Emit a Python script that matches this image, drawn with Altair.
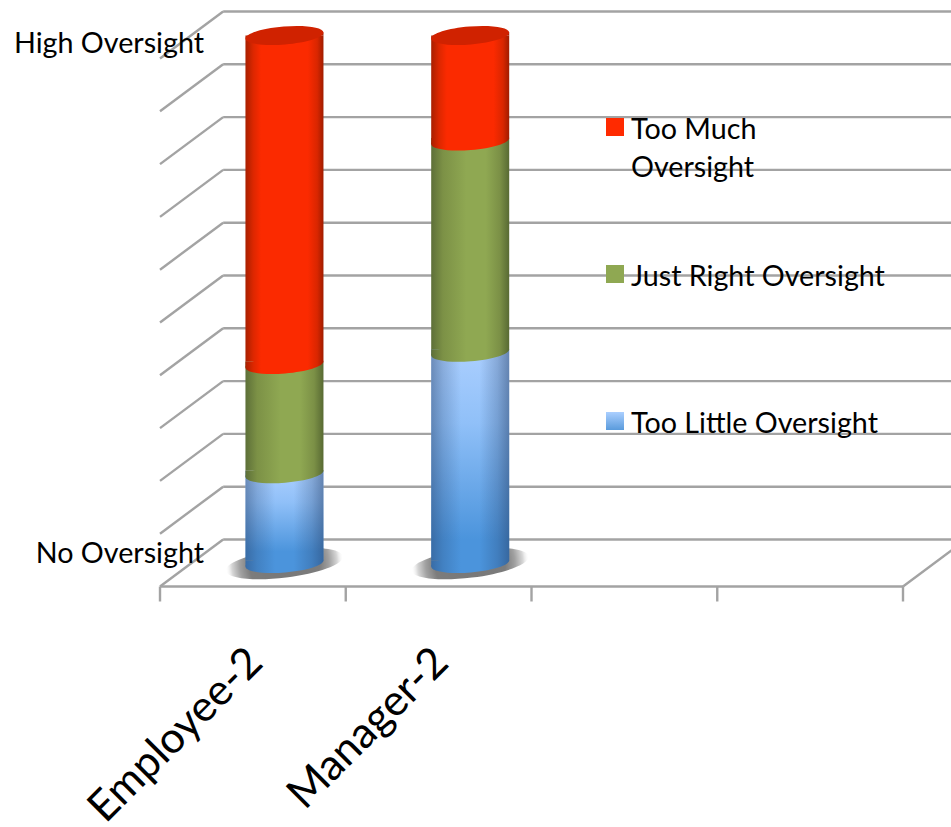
import math

import altair as alt
import pandas as pd

# Survey shares per group, stacked bottom to top (percent of the oversight scale)
categories = ["Employee-2", "Manager-2"]
too_little = [17, 40]
just_right = [20.7, 40]
too_much = [62.3, 20]
series_names = ["Too Little Oversight", "Just Right Oversight", "Too Much Oversight"]

# Pseudo-3D frame, expressed in scale units
LEVELS = list(range(0, 110, 10))
SLOTS = [0, 1, 2, 3, 4]
DEPTH_X = 0.34
DEPTH_Y = 8.9
CYL_BASE = 4.35
CYL_W = 0.42
TILT = 0.57
TICK = 2.84

W, H = 951, 827
x_scale = alt.Scale(domain=[-0.8614, 4.2584], nice=False, zero=False)
y_scale = alt.Scale(domain=[-45.55, 111.08], nice=False, zero=False)
X = lambda f: alt.X(f, type="quantitative", scale=x_scale, axis=None)
Y = lambda f: alt.Y(f, type="quantitative", scale=y_scale, axis=None)


def ellipse_path(a, b, degrees):
    """Rotated ellipse as four cubic segments, in the unit coordinates of a symbol."""
    th = math.radians(degrees)
    ux, uy, vx, vy = math.cos(th), math.sin(th), -math.sin(th), math.cos(th)
    pt = lambda p, q: f"{a * p * ux + b * q * vx:.4f},{a * p * uy + b * q * vy:.4f}"
    k = 0.5523
    return (f"M{pt(1, 0)}C{pt(1, k)} {pt(k, 1)} {pt(0, 1)}C{pt(-k, 1)} {pt(-1, k)} {pt(-1, 0)}"
            f"C{pt(-1, -k)} {pt(-k, -1)} {pt(0, -1)}C{pt(k, -1)} {pt(1, -k)} {pt(1, 0)}Z")


ELLIPSE = ellipse_path(1.003, 0.23, -4.64)
SHADOW_SHAPE = ellipse_path(1.0, 0.24, -7)
CAP_SIZE = 78 ** 2
SHADOW_SIZE = 118 ** 2


def hgrad(*stops):
    return {"gradient": "linear", "x1": 0, "x2": 1, "y1": 0, "y2": 0,
            "stops": [{"offset": o, "color": c} for o, c in stops]}


RED_STOPS = [(0, "#a81f00"), (0.1, "#dc2700"), (0.2, "#fb2a00"), (0.8, "#fb2a00"), (0.92, "#d92600"), (1, "#a01c00")]
GREEN_STOPS = [(0, "#5d6f38"), (0.15, "#7c9146"), (0.45, "#8fa852"), (0.7, "#8fa852"), (0.88, "#7b9046"), (1, "#586a33")]
BLUE_CAP_STOPS = [(0, "#396ca6"), (0.15, "#4281c2"), (0.38, "#4b94dc"), (0.62, "#4b94dc"), (0.85, "#417ebe"), (1, "#3768a0")]


def left_half(stops):
    """The left half of a body gradient, stretched over a half-width patch."""
    kept = [(o * 2, c) for o, c in stops if o <= 0.5]
    return hgrad(*kept, (1, kept[-1][1]))


def right_half(stops):
    """The right half of a body gradient, stretched over a half-width patch."""
    kept = [((o - 0.5) * 2, c) for o, c in stops if o >= 0.5]
    return hgrad((0, kept[0][1]), *kept)


RED = hgrad(*RED_STOPS)
GREEN = hgrad(*GREEN_STOPS)
BLUE_CAP = hgrad(*BLUE_CAP_STOPS)
BLUE_V = {"gradient": "linear", "x1": 0, "x2": 0, "y1": 0, "y2": 1,
          "stops": [{"offset": 0, "color": "#abcfff"}, {"offset": 0.35, "color": "#90c0f8"},
                    {"offset": 0.9, "color": "#4b94dc"}, {"offset": 1, "color": "#4b94dc"}]}
BLUE_SHADE = hgrad((0, "rgba(35,60,100,0.45)"), (0.15, "rgba(35,60,100,0.22)"), (0.38, "rgba(35,60,100,0)"),
                   (0.62, "rgba(35,60,100,0)"), (0.85, "rgba(35,60,100,0.25)"), (1, "rgba(35,60,100,0.5)"))
SHADOW = {"gradient": "radial", "x1": 0.5, "y1": 0.5, "r1": 0, "x2": 0.5, "y2": 0.5, "r2": 0.5,
          "stops": [{"offset": 0, "color": "#777777"}, {"offset": 0.6, "color": "#7c7c7c"},
                    {"offset": 0.76, "color": "#a0a0a0"}, {"offset": 0.9, "color": "#d6d6d6"},
                    {"offset": 1, "color": "rgba(245,245,245,0)"}]}
GRID = "#a3a3a3"

# Cylinder segments computed from the stacked shares
rows = []
for i, cat in enumerate(categories):
    lo = CYL_BASE
    for name, vals in zip(series_names, [too_little, just_right, too_much]):
        hi = lo + vals[i]
        cx = i + 0.5 + DEPTH_X / 2
        # Every segment but the top one runs on behind the end of the segment above it
        top = hi if name == series_names[-1] else hi + TILT
        rows.append({"cat": cat, "series": name, "cx": cx, "left": cx - CYL_W / 2, "right": cx + CYL_W / 2,
                     "lo": lo, "lo_rect": lo + TILT, "lo_low": lo - TILT, "hi": hi, "hi_rect": top,
                     "hi_up": hi + TILT})
        lo = hi
segments = pd.DataFrame(rows)
seg = lambda name: alt.Chart(segments[segments.series == name])

levels = pd.DataFrame({"lv": LEVELS})
levels["lv_back"] = levels.lv + DEPTH_Y
levels["x0"] = 0.0
levels["x_back"] = DEPTH_X
levels["x_end"] = 4 + DEPTH_X

back_lines = alt.Chart(levels).mark_rule(color=GRID, strokeWidth=2.4, clip=True).encode(
    x=X("x_back"), x2="x_end", y=Y("lv_back"))
side_lines = alt.Chart(levels).mark_rule(color=GRID, strokeWidth=2.4).encode(
    x=X("x0"), x2="x_back", y=Y("lv"), y2="lv_back")

floor = pd.DataFrame({"x0": [0.0], "x1": [4.0], "x_back": [4 + DEPTH_X], "y0": [0.0], "y_back": [DEPTH_Y]})
floor_front = alt.Chart(floor).mark_rule(color=GRID, strokeWidth=2.4).encode(x=X("x0"), x2="x1", y=Y("y0"))
floor_right = alt.Chart(floor).mark_rule(color=GRID, strokeWidth=2.4, clip=True).encode(
    x=X("x1"), x2="x_back", y=Y("y0"), y2="y_back")

ticks = pd.DataFrame({"s": SLOTS, "t0": [0.0] * 5, "t1": [-TICK] * 5})
tick_marks = alt.Chart(ticks).mark_rule(color=GRID, strokeWidth=2.4).encode(x=X("s"), y=Y("t0"), y2="t1")


def cap(name, fill, field="lo"):
    return seg(name).mark_point(shape=ELLIPSE, size=CAP_SIZE, filled=True, fill=fill, opacity=1,
                                strokeWidth=0).encode(x=X("cx"), y=Y(field))


def body(name, fill):
    return seg(name).mark_rect(fill=fill, strokeWidth=0).encode(
        x=X("left"), x2="right", y=Y("hi_rect"), y2="lo_rect")


def low_side(name, stops):
    # The tilted end dips lower on its left, so the wall follows it down there
    return seg(name).mark_rect(fill=left_half(stops), strokeWidth=0).encode(
        x=X("left"), x2="cx", y=Y("lo_rect"), y2="lo_low")


def high_side(name, stops):
    # The tilted end rises higher on its right, so the wall follows it up there
    return seg(name).mark_rect(fill=right_half(stops), strokeWidth=0).encode(
        x=X("cx"), x2="right", y=Y("hi_up"), y2="hi")


shadows = seg(series_names[0]).mark_point(shape=SHADOW_SHAPE, size=SHADOW_SIZE, filled=True, fill=SHADOW, opacity=1,
                                          strokeWidth=0).encode(x=X("cx"), y=Y("lo"))

cylinders = [
    shadows,
    body(series_names[0], BLUE_V), body(series_names[0], BLUE_SHADE),
    low_side(series_names[0], BLUE_CAP_STOPS), cap(series_names[0], BLUE_CAP),
    body(series_names[1], GREEN), low_side(series_names[1], GREEN_STOPS), cap(series_names[1], GREEN),
    body(series_names[2], RED), low_side(series_names[2], RED_STOPS), cap(series_names[2], RED),
    high_side(series_names[2], RED_STOPS), cap(series_names[2], "#d02200", "hi"),
]

FONT = "Lato"
TEXT_SIZE = 28.7


def label(text, px, py, size=TEXT_SIZE, align="left"):
    return alt.Chart(pd.DataFrame({"t": [text]})).mark_text(
        font=FONT, fontSize=size, align=align, baseline="alphabetic", color="#000000").encode(
        x=alt.value(px), y=alt.value(py), text="t:N")


def swatch(fill, py):
    return alt.Chart(pd.DataFrame({"t": ["k"]})).mark_square(size=324, fill=fill, opacity=1, strokeWidth=0).encode(
        x=alt.value(615), y=alt.value(py))


SWATCH_BLUE = {"gradient": "linear", "x1": 0, "x2": 0, "y1": 0, "y2": 1,
               "stops": [{"offset": 0, "color": "#abcfff"}, {"offset": 1, "color": "#5a9bdc"}]}

legend_and_labels = [
    label("High Oversight", 204, 53, align="right"),
    label("No Oversight", 204, 563, align="right"),
    swatch("#ff2a00", 127), label("Too Much", 631, 139), label("Oversight", 631, 177),
    swatch("#8fa852", 274), label("Just Right Oversight", 631, 286),
    swatch(SWATCH_BLUE, 421), label("Too Little Oversight", 631, 433),
]

cat_df = pd.DataFrame({"cat": categories, "pos": [i + 0.515 for i in range(len(categories))], "y": [-13.1] * 2})
cat_labels = alt.Chart(cat_df).mark_text(
    font=FONT, fontSize=43, align="right", baseline="middle", angle=315, color="#000000").encode(
    x=X("pos"), y=Y("y"), text="cat:N")

chart = alt.layer(
    back_lines, side_lines, floor_front, floor_right, tick_marks,
    *cylinders, *legend_and_labels, cat_labels,
).properties(
    width=W, height=H, padding=0, autosize=alt.AutoSizeParams(type="none"),
    background="#ffffff",
).configure_view(stroke=None)

chart.save("out.html", embed_options={"renderer": "svg", "actions": False})
